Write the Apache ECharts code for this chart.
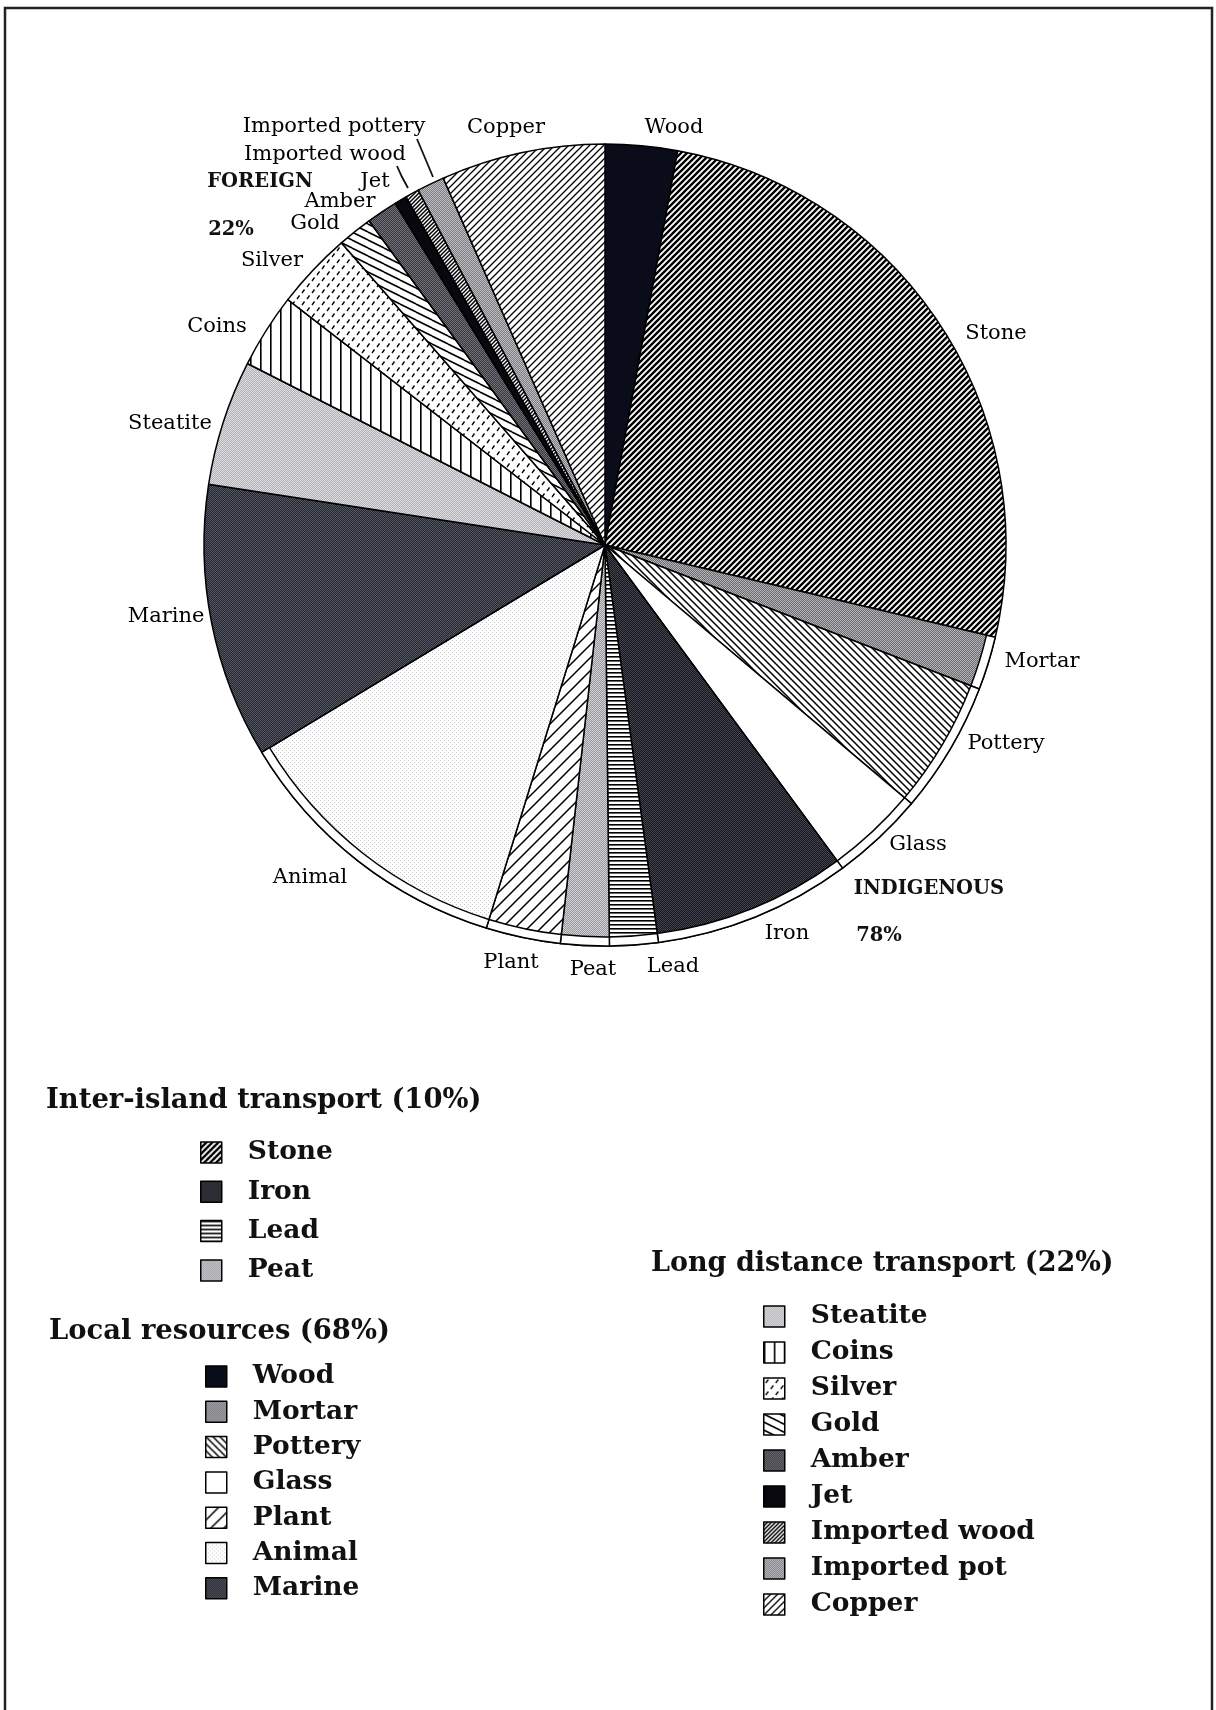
<!DOCTYPE html>
<html>
<head>
<meta charset="utf-8">
<script src="https://cdn.jsdelivr.net/npm/echarts@6/dist/echarts.min.js"></script>
<style>
  html, body { margin: 0; padding: 0; background: #fff; }
  #chart { width: 1216px; height: 1710px; }
</style>
</head>
<body>
<div id="chart"></div>
<script>
// Material categories, clockwise from twelve o'clock
const categories = ['Wood', 'Stone', 'Mortar', 'Pottery', 'Glass', 'Iron', 'Lead', 'Peat',
  'Plant', 'Animal', 'Marine', 'Steatite', 'Coins', 'Silver', 'Gold', 'Amber', 'Jet',
  'Imported wood', 'Imported pottery', 'Copper'];
// Share of finds (%)
const shares = [2.9, 25.75, 2.15, 5.3, 3.75, 7.95, 1.95, 1.95,
  3.0, 11.55, 11.05, 5.05, 3.0, 3.1, 1.4, 1.25, 0.5,
  0.55, 1.1, 6.6];
// Slices drawn with the double outer rim
const rimmed = ['Mortar', 'Pottery', 'Glass', 'Iron', 'Lead', 'Peat', 'Plant', 'Animal'];
// Key groups
const interIsland = ['Stone', 'Iron', 'Lead', 'Peat'];
const localResources = ['Wood', 'Mortar', 'Pottery', 'Glass', 'Plant', 'Animal', 'Marine'];
const longDistance = ['Steatite', 'Coins', 'Silver', 'Gold', 'Amber', 'Jet',
  'Imported wood', 'Imported pottery', 'Copper'];
const groupTitles = ['Inter-island transport (10%)', 'Local resources (68%)', 'Long distance transport (22%)'];
const originTexts = ['FOREIGN', '22%', 'INDIGENOUS', '78%'];

// ---- fill patterns -------------------------------------------------------
function tile(w, h, bg, draw) {
  const c = document.createElement('canvas');
  c.width = w; c.height = h;
  const g = c.getContext('2d');
  g.fillStyle = bg; g.fillRect(0, 0, w, h);
  g.strokeStyle = '#000'; g.fillStyle = '#000';
  if (draw) draw(g, w, h);
  return { image: c, repeat: 'repeat' };
}
function slash(s, lw, bg) {
  return tile(s, s, bg || '#fff', g => {
    g.lineWidth = lw; g.beginPath();
    g.moveTo(-1, 1); g.lineTo(1, -1);
    g.moveTo(0, s); g.lineTo(s, 0);
    g.moveTo(s - 1, s + 1); g.lineTo(s + 1, s - 1);
    g.stroke();
  });
}
function backslash(s, lw, bg) {
  return tile(s, s, bg || '#fff', g => {
    g.lineWidth = lw; g.beginPath();
    g.moveTo(-1, s - 1); g.lineTo(1, s + 1);
    g.moveTo(0, 0); g.lineTo(s, s);
    g.moveTo(s - 1, -1); g.lineTo(s + 1, 1);
    g.stroke();
  });
}
function shallow(w, h, lw) {
  return tile(w, h, '#fff', g => {
    g.lineWidth = lw; g.beginPath();
    for (let k = -1; k <= 1; k++) { g.moveTo(0, k * h); g.lineTo(w, (k + 1) * h); }
    g.stroke();
  });
}
function hlines(s, lw) { return tile(s, s, '#fff', g => g.fillRect(0, 0, s, lw)); }
function vlines(s, lw) { return tile(s, s, '#fff', g => g.fillRect(0, 0, lw, s)); }
function stipple(a, b) {
  return tile(2, 2, a, g => { g.fillStyle = b; g.fillRect(0, 0, 1, 1); g.fillRect(1, 1, 1, 1); });
}
function dashes() {
  return tile(10, 12, '#fff', g => {
    g.lineWidth = 1.3; g.beginPath();
    g.moveTo(2, 5); g.lineTo(4.5, 1.5);
    g.moveTo(7, 11); g.lineTo(9.5, 7.5);
    g.stroke();
  });
}
function sparse(bg, dot) {
  return tile(4, 4, bg, g => { g.fillStyle = dot; g.fillRect(0, 0, 1, 1); g.fillRect(2, 2, 1, 1); });
}

const fills = {
  'Wood': '#0b0c19',
  'Stone': slash(6, 2.4),
  'Mortar': stipple('#6c6c70', '#b4b4b8'),
  'Pottery': backslash(7, 1.5),
  'Glass': '#ffffff',
  'Iron': stipple('#16171e', '#42444e'),
  'Lead': hlines(4, 1.6),
  'Peat': stipple('#9a9a9e', '#d0d0d4'),
  'Plant': slash(13, 1.5),
  'Animal': sparse('#ffffff', '#c4c6cc'),
  'Marine': stipple('#23252f', '#555763'),
  'Steatite': stipple('#b0b0b4', '#e0e0e4'),
  'Coins': vlines(10, 1.6),
  'Silver': dashes(),
  'Gold': shallow(16, 8, 1.6),
  'Amber': stipple('#38383e', '#707078'),
  'Jet': '#08080e',
  'Imported wood': slash(4, 1.5),
  'Imported pottery': stipple('#7c7c80', '#c0c0c4'),
  'Copper': slash(7, 1.3)
};

// ---- label placement ------------------------------------------------------
const labelAt = {
  'Wood': [674, 128], 'Stone': [996, 334], 'Mortar': [1042, 662], 'Pottery': [1006, 744],
  'Glass': [918, 845], 'Iron': [787, 934], 'Lead': [673, 967], 'Peat': [593, 970],
  'Plant': [511, 963], 'Animal': [310, 878], 'Marine': [166, 617], 'Steatite': [170, 424],
  'Coins': [217, 327], 'Silver': [272, 261], 'Gold': [315, 224], 'Amber': [340, 202],
  'Jet': [375, 182], 'Imported wood': [325, 155], 'Imported pottery': [334, 127], 'Copper': [506, 128]
};
const leaderAt = {
  'Imported pottery': [[417, 139], [425, 158], [433, 177]],
  'Imported wood': [[397, 166], [402, 177], [408, 188]]
};

const SERIF = '"DejaVu Serif", "Liberation Serif", serif';
const CENTER = [605, 545];
const R_OUT = 401, R_RIM = 392;

const chart = echarts.init(document.getElementById('chart'), null, { renderer: 'canvas' });

const legendBase = {
  orient: 'vertical', icon: 'rect', itemWidth: 21, itemHeight: 21,
  selectedMode: false,
  itemStyle: { borderColor: '#000', borderWidth: 1.5 },
  textStyle: { fontFamily: SERIF, fontWeight: 'bold', fontSize: 26.5, color: '#111',
    padding: [0, 0, 0, 21] },
  formatter: n => (n === 'Imported pottery' ? 'Imported pot' : n)
};

const textEl = (t, x, y, size, weight, align) => ({
  type: 'text', x, y, silent: true,
  style: { text: t, fontFamily: SERIF, fontSize: size, fontWeight: weight, fill: '#111',
    align: align || 'left', verticalAlign: 'middle' }
});

chart.setOption({
  animation: false,
  backgroundColor: '#ffffff',
  legend: [
    Object.assign({}, legendBase, { data: interIsland, left: 195, top: 1134, itemGap: 12.3 }),
    Object.assign({}, legendBase, { data: localResources, left: 200, top: 1358, itemGap: 8.3 }),
    Object.assign({}, legendBase, { data: longDistance, left: 758, top: 1298, itemGap: 9 })
  ],
  graphic: [
    { type: 'rect', silent: true, shape: { x: 5, y: 8, width: 1207, height: 1720 },
      style: { fill: 'none', stroke: '#222', lineWidth: 2.5 } },
    textEl(groupTitles[0], 46, 1101, 27.4, 'bold'),
    textEl(groupTitles[1], 49, 1332, 27.4, 'bold'),
    textEl(groupTitles[2], 651, 1264, 27, 'bold'),
    textEl(originTexts[0], 260, 182, 19.5, 'bold', 'center'),
    textEl(originTexts[1], 231, 230, 19.5, 'bold', 'center'),
    textEl(originTexts[2], 929, 889, 19.5, 'bold', 'center'),
    textEl(originTexts[3], 879, 936, 19.5, 'bold', 'center')
  ],
  series: [
    {
      type: 'pie',
      name: 'Finds',
      center: CENTER,
      radius: [0, R_OUT],
      startAngle: 90,
      clockwise: true,
      avoidLabelOverlap: false,
      emphasis: { disabled: true },
      itemStyle: { borderColor: '#000', borderWidth: 1.5 },
      label: { show: true, position: 'outside', formatter: '{b}', fontFamily: SERIF,
        fontSize: 21, color: '#000' },
      labelLine: { show: false },
      labelLayout: p => {
        const name = categories[p.dataIndex];
        const pos = labelAt[name];
        const out = { x: pos[0], y: pos[1], align: 'center', verticalAlign: 'middle' };
        if (leaderAt[name]) out.labelLinePoints = leaderAt[name];
        return out;
      },
      data: categories.map((c, i) => ({
        name: c,
        value: shares[i],
        itemStyle: { color: fills[c] },
        labelLine: leaderAt[c] ? { show: true, lineStyle: { color: '#111', width: 1.8 } } : { show: false }
      }))
    },
    {
      // outer rim band around the lower slices
      type: 'pie',
      silent: true,
      center: CENTER,
      radius: [R_RIM, R_OUT],
      startAngle: 90,
      clockwise: true,
      emphasis: { disabled: true },
      label: { show: false },
      labelLine: { show: false },
      data: categories.map((c, i) => rimmed.includes(c)
        ? { value: shares[i], itemStyle: { color: '#fff', borderColor: '#000', borderWidth: 1.5 } }
        : { value: shares[i], itemStyle: { color: 'rgba(0,0,0,0)', borderWidth: 0 } })
    }
  ]
});
</script>
</body>
</html>
